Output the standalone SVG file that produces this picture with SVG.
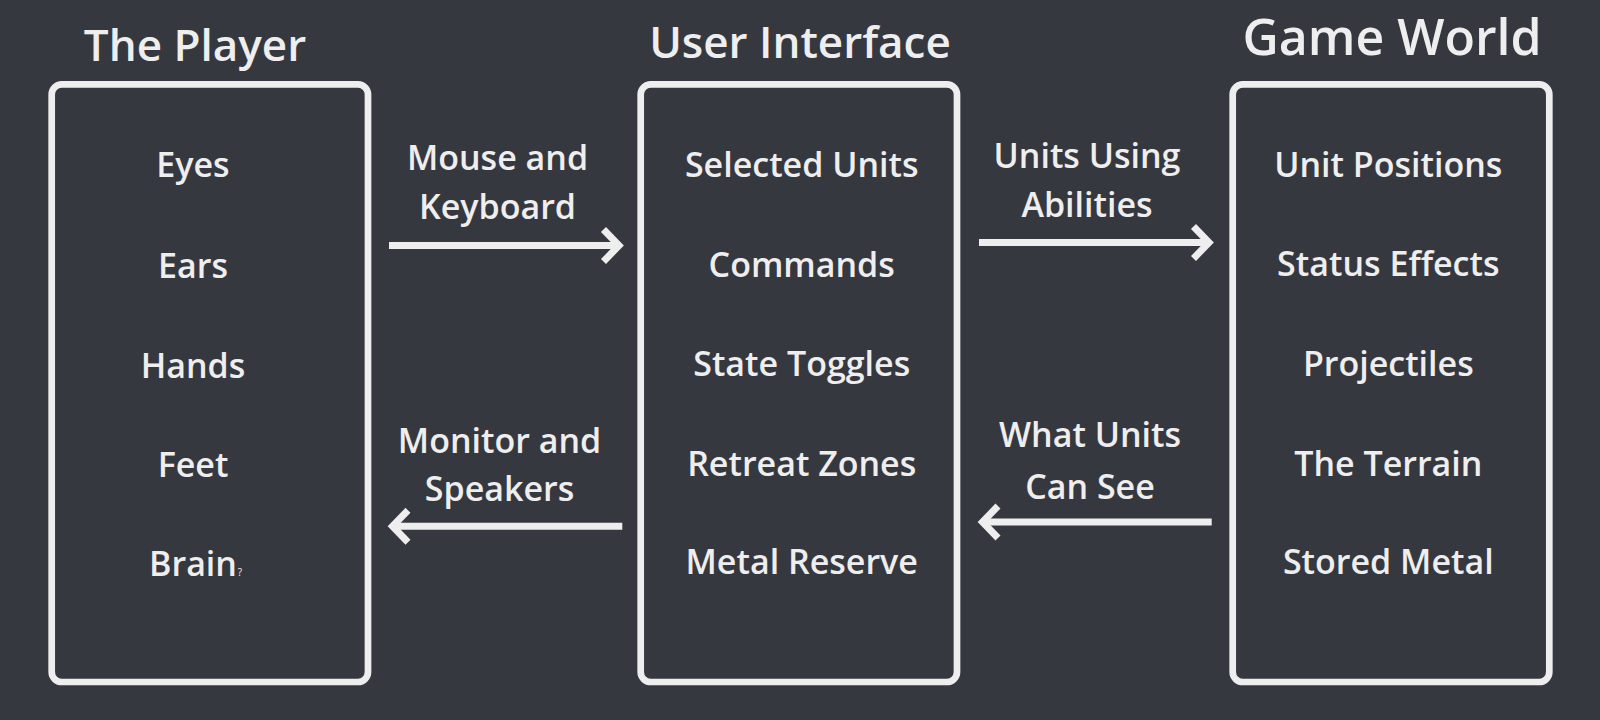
<svg xmlns="http://www.w3.org/2000/svg" width="1600" height="720" viewBox="0 0 1600 720">
<style>
.bg{fill:#363840}
.box{fill:none;stroke:#eeeeee;stroke-width:6.7}
.t{font-family:"Open Sans","Noto Sans","DejaVu Sans",sans-serif;fill:#eeeeee;text-anchor:middle;font-weight:600}
.item{font-size:34px}
.lbl{font-size:34px}
.title{font-size:44px}
.conn{fill:none;stroke:#eeeeee;stroke-width:7;stroke-linecap:butt;stroke-linejoin:miter}
</style>
<rect class="bg" x="0" y="0" width="1600" height="720"/>
<g id="player">
<text class="t title" x="195" y="61">The Player</text>
<rect class="box" x="51.7" y="84.4" width="316.3" height="597.6" rx="10"/>
<text class="t item" x="193" y="176.7">Eyes</text>
<text class="t item" x="193" y="278">Ears</text>
<text class="t item" x="193" y="377.7">Hands</text>
<text class="t item" x="193" y="476.7">Feet</text>
<text class="t item" x="193" y="576">Brain</text>
<text class="t" x="240" y="576" style="font-size:10px;font-weight:400">?</text>
</g>
<g id="ui">
<text class="t title" x="800" y="58.3">User Interface</text>
<rect class="box" x="640.7" y="84.4" width="316.3" height="597.6" rx="10"/>
<text class="t item" x="801.7" y="176.7">Selected Units</text>
<text class="t item" x="801.7" y="276.7">Commands</text>
<text class="t item" x="801.7" y="376">State Toggles</text>
<text class="t item" x="801.7" y="476">Retreat Zones</text>
<text class="t item" x="801.7" y="574.3">Metal Reserve</text>
</g>
<g id="world">
<text class="t" x="1392" y="55" style="font-size:50px">Game World</text>
<rect class="box" x="1232.7" y="84.4" width="316.6" height="597.6" rx="10"/>
<text class="t item" x="1388.3" y="176.7">Unit Positions</text>
<text class="t item" x="1388.3" y="276">Status Effects</text>
<text class="t item" x="1388.3" y="376">Projectiles</text>
<text class="t item" x="1388.3" y="475.7">The Terrain</text>
<text class="t item" x="1388.3" y="574.3">Stored Metal</text>
</g>
<g id="connectors">
<path class="conn" d="M389 245.5 H617"/>
<path class="conn" d="M603.5 229.5 L619 245.5 L603.5 261.5"/>
<text class="t lbl" x="497.5" y="170">Mouse and</text>
<text class="t lbl" x="497.5" y="219.3">Keyboard</text>
<path class="conn" d="M979 242.5 H1210"/>
<path class="conn" d="M1193.5 226.5 L1209 242.5 L1193.5 258.5"/>
<text class="t lbl" x="1087" y="168.3">Units Using</text>
<text class="t lbl" x="1087" y="216.7">Abilities</text>
<path class="conn" d="M622.3 526.3 H393"/>
<path class="conn" d="M408 510.3 L392.5 526.3 L408 542.3"/>
<text class="t lbl" x="499.5" y="452.7">Monitor and</text>
<text class="t lbl" x="499.5" y="500.7">Speakers</text>
<path class="conn" d="M1211.7 522 H983"/>
<path class="conn" d="M998 506 L982.5 522 L998 538"/>
<text class="t lbl" x="1090" y="446.7">What Units</text>
<text class="t lbl" x="1090" y="499">Can See</text>
</g>
</svg>
